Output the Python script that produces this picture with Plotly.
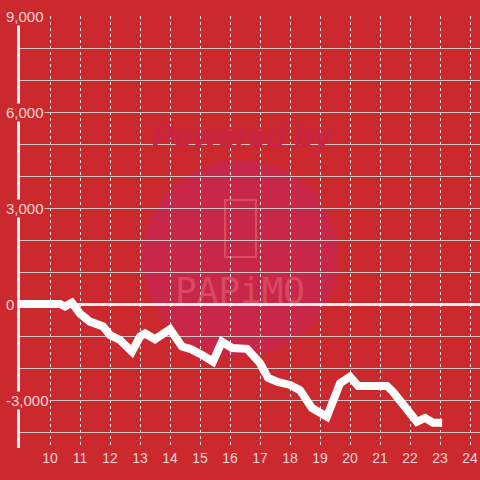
import plotly.graph_objects as go

# ── Data ──────────────────────────────────────────────────────────────────────
x_vals = [9.0, 10.33, 10.5, 10.73, 11.0, 11.33, 11.77, 12.0, 12.33, 12.73,
          13.0, 13.17, 13.5, 14.0, 14.4, 14.67, 15.07, 15.43, 15.73, 16.07,
          16.57, 17.0, 17.27, 17.57, 18.0, 18.33, 18.73, 19.0, 19.23, 19.67,
          20.0, 20.27, 21.23, 21.43, 21.77, 22.0, 22.23, 22.5, 22.77, 23.07]
y_vals = [0, 0, -80, 40, -300, -550, -700, -970, -1125, -1490,
          -1020, -920, -1100, -790, -1330, -1400, -1590, -1800, -1180, -1375,
          -1400, -1850, -2310, -2430, -2530, -2690, -3250, -3360, -3520, -2470,
          -2270, -2560, -2560, -2740, -3160, -3360, -3680, -3560, -3710, -3710]

x_ticks = list(range(10, 25))
y_grid = list(range(-4000, 9001, 1000))
y_label_vals = [9000, 6000, 3000, 0, -3000]
y_label_text = ["9,000", "6,000", "3,000", "0", "-3,000"]

BG = "#cc292e"
LABEL = "#f3d3d4"
FONT = "Liberation Sans, Arial, sans-serif"

# ── Figure ────────────────────────────────────────────────────────────────────
fig = go.Figure()
fig.add_trace(go.Scatter(
    x=x_vals, y=y_vals,
    mode="lines",
    line=dict(color="white", width=8),
    hoverinfo="skip",
))

# watermark (faint, under the grid)
fig.add_shape(type="circle", xref="paper", yref="paper",
              x0=(142 - 20) / 460, x1=(338 - 20) / 460,
              y0=(448 - 356) / 432, y1=(448 - 160) / 432,
              fillcolor="#c9274a", line_width=0, layer="below")
fig.add_shape(type="rect", xref="paper", yref="paper",
              x0=(225 - 20) / 460, x1=(256 - 20) / 460,
              y0=(448 - 257) / 432, y1=(448 - 200) / 432,
              line=dict(color="rgba(230,110,110,0.55)", width=2),
              layer="below")
fig.add_annotation(text="<b><i>Powered by</i></b>", xref="paper", yref="paper",
                   x=(243 - 20) / 460, y=(448 - 116) / 432, showarrow=False,
                   font=dict(family=FONT, size=32, color="rgb(200,36,70)"))
fig.add_annotation(text="PAPiMO", xref="paper", yref="paper",
                   x=(240 - 20) / 460, y=(448 - 290) / 432, showarrow=False,
                   font=dict(family="DejaVu Sans Mono, monospace", size=36,
                             color="rgba(235,120,120,0.45)"))

# y tick labels with background so they break the axis line
for v, t in zip(y_label_vals, y_label_text):
    fig.add_annotation(text=t, xref="paper", yref="y",
                       x=(5 - 20) / 460, y=v, xanchor="left", yanchor="middle",
                       showarrow=False, bgcolor=BG, borderpad=0,
                       font=dict(family=FONT, size=15, color=LABEL))

fig.update_layout(
    width=480, height=480,
    paper_bgcolor=BG, plot_bgcolor=BG,
    margin=dict(l=20, r=0, t=16, b=32),
    showlegend=False,
    xaxis=dict(
        range=[9, 24.333], tickvals=x_ticks, showgrid=True,
        gridcolor="#f0e0e0", griddash="dot", gridwidth=1,
        zeroline=False, showline=False, ticks="",
        tickfont=dict(family=FONT, size=14, color=LABEL),
    ),
    yaxis=dict(
        range=[-4500, 9000], tickvals=y_grid, showticklabels=False,
        showgrid=True, gridcolor="#cfc5c5", gridwidth=1.2,
        zeroline=True, zerolinecolor="#f4eeee", zerolinewidth=3,
        showline=True, linecolor="#f2eeee", linewidth=3, ticks="",
    ),
)

fig.write_html("out.html",
               config={"displayModeBar": False},
               post_script="document.body.style.margin='0';"
                           "document.body.style.overflow='hidden';")
